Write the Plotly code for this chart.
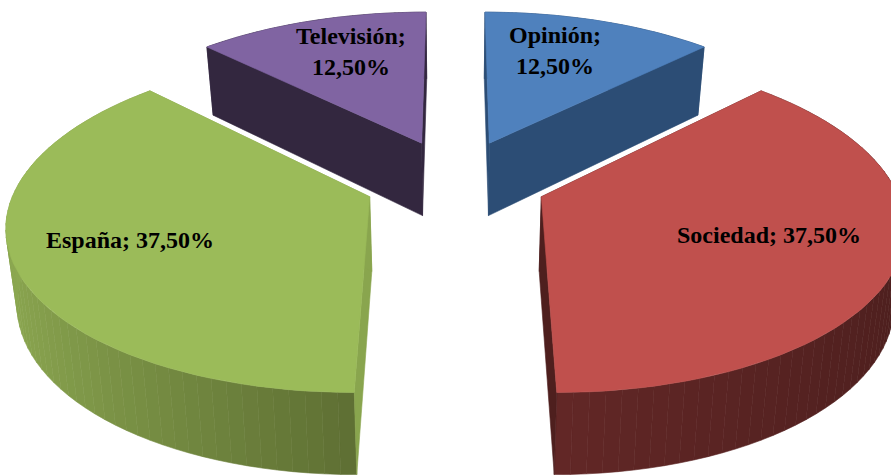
"""Exploded 3D pie of news sections, drawn as filled polygons in pixel-like axes."""
import numpy as np
import plotly.graph_objects as go

categories = ['Opinión', 'Sociedad', 'España', 'Televisión']
values = [12.5, 37.5, 37.5, 12.5]
label_breaks = [True, False, False, True]

top_colors = ['#4F81BD', '#C0504D', '#9BBB59', '#8064A2']
cut_colors = ['#2C4D75', '#4E1F1E', '#89A54E', '#33273F']
wall_near = ['#2C4D75', '#622726', '#5E6F33', '#33273F']
wall_side = ['#2C4D75', '#4D1F1E', '#8CA851', '#33273F']

# projection of the pie onto the picture
CENTER_X, CENTER_Y = 455.5, 180.5
SCALE_X, SCALE_Y = 352, 161
PERSPECTIVE = 0.15
EXPLODE = 0.26
DEPTH = 74
BOTTOM_SHRINK = 0.975

LABEL_XY = [(555, 50), (769, 235), (130, 240), (351, 51)]


def project(x, y, bottom=False):
    w = 1 + PERSPECTIVE * y
    sx = CENTER_X + SCALE_X * x / w
    sy = CENTER_Y - SCALE_Y * y / w
    if bottom:
        sx = CENTER_X + (sx - CENTER_X) * BOTTOM_SHRINK
        sy = sy + DEPTH / (1 + 0.6 * PERSPECTIVE * y)
    return sx, sy


def hex_mix(c1, c2, t):
    a = np.array([int(c1[i:i + 2], 16) for i in (1, 3, 5)])
    b = np.array([int(c2[i:i + 2], 16) for i in (1, 3, 5)])
    r, g, b = (a + (b - a) * t).round().astype(int)
    return f'rgb({r},{g},{b})'


def add_poly(fig, xs, ys, color, name=None):
    fig.add_trace(go.Scatter(
        x=list(xs) + [xs[0]], y=list(ys) + [ys[0]],
        mode='lines', fill='toself', fillcolor=color,
        line=dict(color=color, width=0.6),
        hoverinfo='text' if name else 'skip', text=name,
        showlegend=False,
    ))


fig = go.Figure()
shares = np.array(values) / sum(values)
ends = np.cumsum(shares) * 2 * np.pi
starts = ends - shares * 2 * np.pi

# back slices first so the front ones sit on top
for i in [3, 0, 2, 1]:
    mid = (starts[i] + ends[i]) / 2
    ox, oy = EXPLODE * np.sin(mid), EXPLODE * np.cos(mid)
    theta = np.linspace(starts[i], ends[i], 61)
    rx, ry = ox + np.sin(theta), oy + np.cos(theta)
    top_x, top_y = project(rx, ry)
    bot_x, bot_y = project(rx, ry, bottom=True)
    apex_x, apex_y = project(ox, oy)
    apex_bx, apex_by = project(ox, oy, bottom=True)

    # outer wall as thin strips for the sideways gradient
    for j in range(len(theta) - 1):
        shade = abs(np.sin((theta[j] + theta[j + 1]) / 2))
        add_poly(fig,
                 [top_x[j], top_x[j + 1], bot_x[j + 1], bot_x[j]],
                 [top_y[j], top_y[j + 1], bot_y[j + 1], bot_y[j]],
                 hex_mix(wall_near[i], wall_side[i], shade))

    # the two radial cut faces
    for k in (0, -1):
        add_poly(fig,
                 [apex_x, top_x[k], bot_x[k], apex_bx],
                 [apex_y, top_y[k], bot_y[k], apex_by],
                 cut_colors[i])

    add_poly(fig, [apex_x, *top_x], [apex_y, *top_y], top_colors[i], categories[i])

for name, val, brk, (lx, ly) in zip(categories, values, label_breaks, LABEL_XY):
    pct = f'{val:.2f}'.replace('.', ',') + '%'
    fig.add_annotation(
        x=lx, y=ly, xref='x', yref='y',
        text=f'<b>{name};{"<br>" if brk else " "}{pct}</b>',
        showarrow=False, align='center',
        font=dict(family='Liberation Serif', size=24, color='black'),
    )

fig.update_xaxes(range=[0, 891], visible=False, fixedrange=True)
fig.update_yaxes(range=[475, 0], visible=False, fixedrange=True)
fig.update_layout(
    width=891, height=475,
    margin=dict(l=0, r=0, t=0, b=0),
    paper_bgcolor='white', plot_bgcolor='white',
    showlegend=False,
)
fig.write_html('out.html', config={'displayModeBar': False},
               post_script="document.body.style.margin='0';")
